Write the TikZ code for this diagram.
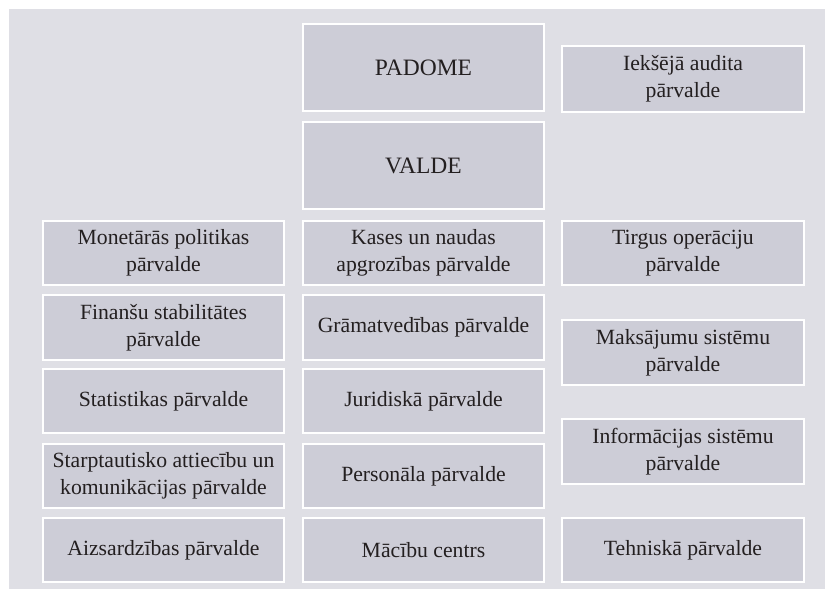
\documentclass[tikz,border=0pt]{standalone}
\usepackage{fontspec}
\setmainfont{Liberation Serif}
\definecolor{bggray}{RGB}{223,223,229}
\definecolor{boxgray}{RGB}{205,205,215}
\definecolor{inkgray}{RGB}{35,31,32}
\tikzset{
  unit/.style={draw=white, line width=2pt, fill=boxgray, text=inkgray, align=center,
    inner sep=0pt, minimum width=241pt, minimum height=64.5pt,
    font=\fontsize{21.7}{27}\selectfont},
  board/.style={unit, minimum height=87pt, font=\fontsize{23.5}{28}\selectfont}
}
\begin{document}
\begin{tikzpicture}[x=1pt, y=1pt]
    \useasboundingbox (0,0) rectangle (825,-589);
    \fill[bggray] (9,-9) rectangle (825,-589);

    \node[board] (padome) at (423.5,-67.5) {PADOME};
    \node[board] (valde) at (423.5,-165.5) {VALDE};
    \node[unit, minimum width=242pt, minimum height=66pt] (audits) at (683,-79) {Iekšējā audita\\pārvalde};

    \foreach \y/\l/\ltxt/\m/\mtxt in {
        253/monetara/{Monetārās politikas\\pārvalde}/kases/{Kases un naudas\\apgrozības pārvalde},
        327.5/finansu/{Finanšu stabilitātes\\pārvalde}/gramatvediba/{Grāmatvedības pārvalde},
        401/statistika/{Statistikas pārvalde}/juridiska/{Juridiskā pārvalde},
        476/starpt/{Starptautisko attiecību un\\komunikācijas pārvalde}/personals/{Personāla pārvalde},
        550/aizsardziba/{Aizsardzības pārvalde}/macibu/{Mācību centrs}} {
      \node[unit] (\l) at (163.5,-\y) {\ltxt};
      \node[unit] (\m) at (423.5,-\y) {\mtxt};
    }

    \node[unit, minimum width=242pt] (tirgus) at (683,-253) {Tirgus operāciju\\pārvalde};
    \node[unit, minimum width=242pt, minimum height=65pt] (maksajumi) at (683,-352.5) {Maksājumu sistēmu\\pārvalde};
    \node[unit, minimum width=242pt, minimum height=65pt] (informacija) at (683,-451.5) {Informācijas sistēmu\\pārvalde};
    \node[unit, minimum width=242pt] (tehniska) at (683,-550) {Tehniskā pārvalde};

  \end{tikzpicture}
\end{document}
